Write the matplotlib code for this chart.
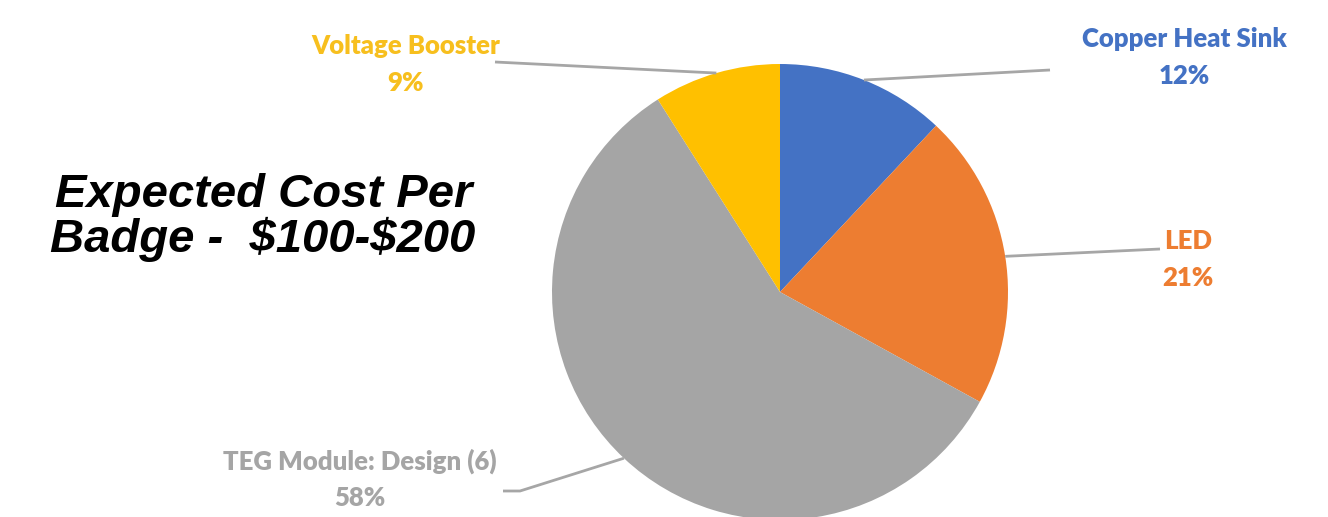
import numpy as np
import matplotlib
matplotlib.use("Agg")
import matplotlib.pyplot as plt

# ---- data ----
categories = ["Copper Heat Sink", "LED", "TEG Module: Design (6)", "Voltage Booster"]
shares = [12, 21, 58, 9]
colors = ["#4472C4", "#ED7D31", "#A5A5A5", "#FFC000"]
label_colors = ["#4472C4", "#ED7D31", "#A5A5A5", "#F7BF1E"]
title_lines = ["Expected Cost Per", "Badge -  $100-$200"]

W, H = 1328, 517
fig = plt.figure(figsize=(W / 100, H / 100), dpi=100)
ax = fig.add_axes([0, 0, 1, 1])

cx, cy, R = 780, H - 292, 228
wedges, _ = ax.pie(shares, colors=colors, startangle=90, counterclock=False,
                   center=(cx, cy), radius=R,
                   wedgeprops=dict(linewidth=0))
ax.set_xlim(0, W)
ax.set_ylim(0, H)
ax.set_aspect("equal")
ax.axis("off")

# label anchor positions (pixel coordinates, y from top) and leader elbows
label_pos = [(1184, 39), (1188, 241), (360, 461), (406, 46)]
line_end = [(1050, 70), (1160, 249), (520, 491), (495, 62)]
elbow = [None, None, (503, 491), None]
line_gap = 37

for w, cat, val, lc, (lx, ly), (ex, ey), el in zip(
        wedges, categories, shares, label_colors, label_pos, line_end, elbow):
    ang = np.deg2rad((w.theta1 + w.theta2) / 2)
    sx, sy = cx + R * np.cos(ang), cy + R * np.sin(ang)
    xs, ys = [sx, ex], [sy, H - ey]
    if el is not None:
        xs.append(el[0]); ys.append(H - el[1])
    ax.plot(xs, ys, color="#A6A6A6", lw=2, solid_capstyle="butt", zorder=1)
    ax.text(lx, H - ly, cat, ha="center", va="center", color=lc,
            fontsize=18.5, fontweight="heavy", family="Lato")
    ax.text(lx, H - ly - line_gap, f"{val}%", ha="center", va="center", color=lc,
            fontsize=18.5, fontweight="heavy", family="Lato")

ax.text(55, H - 207, title_lines[0], ha="left", va="baseline", fontsize=34,
        fontweight="bold", fontstyle="italic", family="Liberation Sans",
        color="black", parse_math=False)
ax.text(50, H - 252, title_lines[1], ha="left", va="baseline", fontsize=34,
        fontweight="bold", fontstyle="italic", family="Liberation Sans",
        color="black", parse_math=False)

fig.savefig("out.png", dpi=100, facecolor="white")
